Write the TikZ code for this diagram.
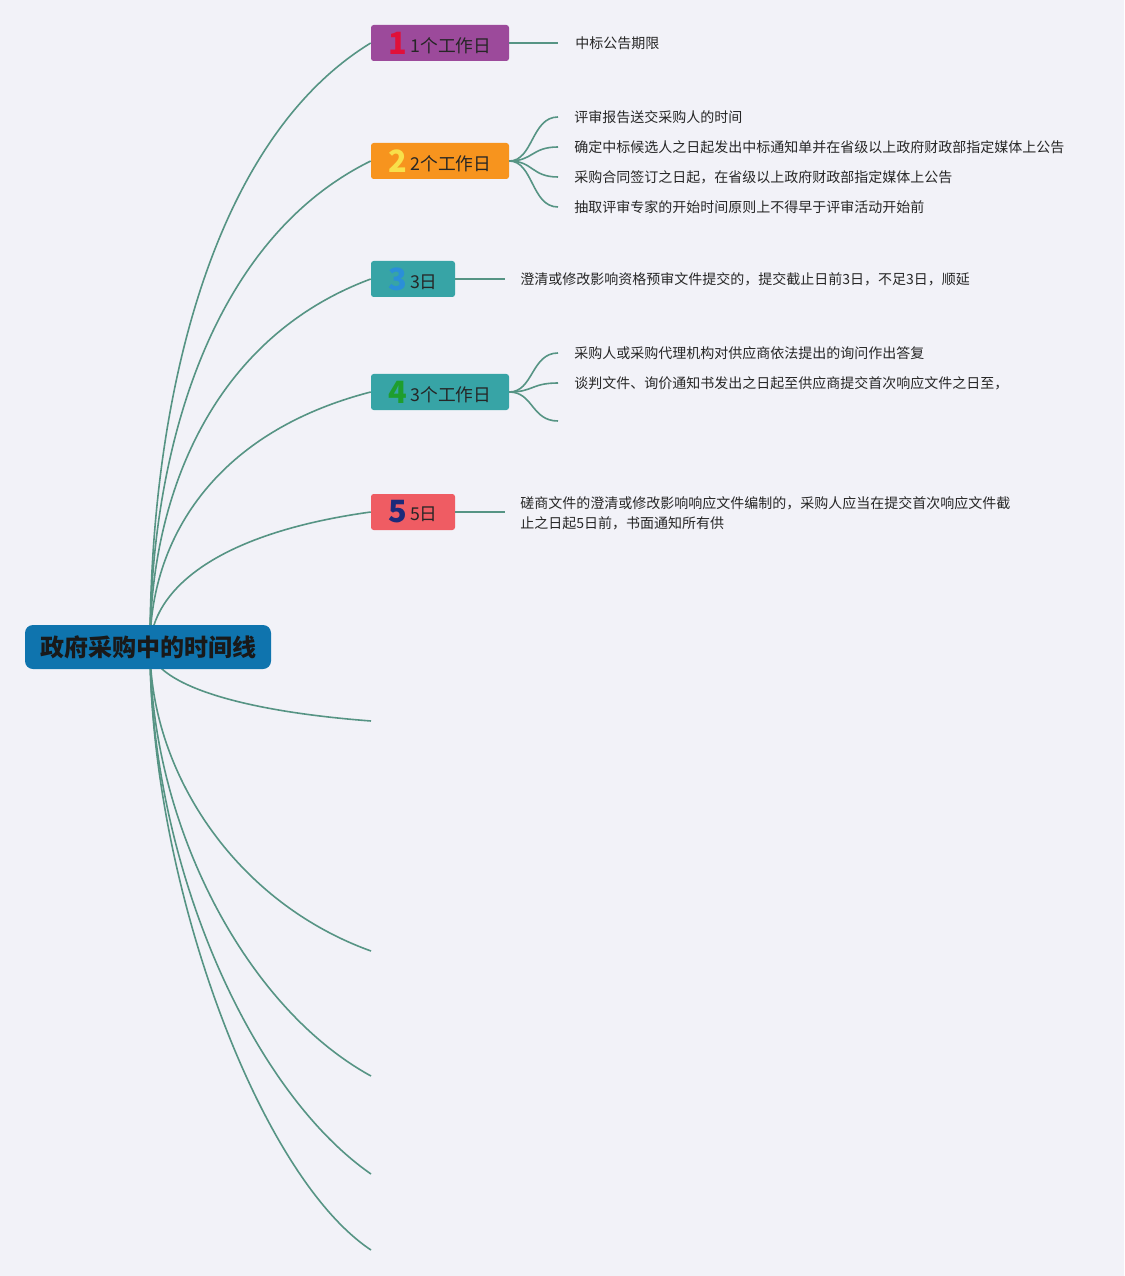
\documentclass[tikz,border=0pt]{standalone}
\usepackage{fontspec}
\setmainfont{Noto Sans CJK SC}
\definecolor{bgc}{HTML}{F2F2F8}
\definecolor{linec}{HTML}{569484}
\definecolor{rootc}{HTML}{0F74AE}
\definecolor{purpc}{HTML}{9C4A9B}
\definecolor{orangec}{HTML}{F7941E}
\definecolor{tealc}{HTML}{37A4A6}
\definecolor{redc}{HTML}{EF5C63}
\definecolor{nred}{HTML}{E0103A}
\definecolor{nyellow}{HTML}{F8E04A}
\definecolor{nblue}{HTML}{2A8FD8}
\definecolor{ngreen}{HTML}{1E9E2E}
\definecolor{nnavy}{HTML}{1C2A7A}
\newcommand{\tnum}[2]{\raisebox{-1.5pt}{\fontsize{23}{23}\selectfont\bfseries\color{#1}#2}}
\begin{document}
\begin{tikzpicture}[x=0.75pt,y=-0.75pt,
  conn/.style={draw=linec, line width=1.2pt},
  topic/.style={rounded corners=2pt, minimum height=27pt, inner sep=0pt,
    font=\fontsize{13.3}{14}\selectfont, text=black!85},
  leaf/.style={anchor=west, inner sep=0pt, font=\fontsize{10.5}{15}\selectfont,
    text=black!85, align=left}]
\useasboundingbox[fill=bgc] (0,0) rectangle (1124,1276);
\coordinate (o) at (150,647);
% topic nodes
\node[topic, fill=purpc, minimum width=103.5pt] (t1) at (440,43) {\tnum{nred}{1}\,1个工作日};
\node[topic, fill=orangec, minimum width=103.5pt] (t2) at (440,161) {\tnum{nyellow}{2}\,2个工作日};
\node[topic, fill=tealc, minimum width=63pt] (t3) at (413,279) {\tnum{nblue}{3}\,3日};
\node[topic, fill=tealc, minimum width=103.5pt] (t4) at (440,392) {\tnum{ngreen}{4}\,3个工作日};
\node[topic, fill=redc, minimum width=63pt] (t5) at (413,512) {\tnum{nnavy}{5}\,5日};
% empty branch ends
\coordinate (b6) at (371,721);
\coordinate (b7) at (371,951);
\coordinate (b8) at (371,1076);
\coordinate (b9) at (371,1174);
\coordinate (b10) at (371,1250);
% main branches
\draw[conn] (o) .. controls (150,399) and (212,140) .. (t1.west);
\draw[conn] (o) .. controls (150,448) and (212,239) .. (t2.west);
\draw[conn] (o) .. controls (150,496) and (212,338) .. (t3.west);
\draw[conn] (o) .. controls (150,542) and (212,433) .. (t4.west);
\draw[conn] (o) .. controls (152,592) and (212,534) .. (t5.west);
\draw[conn] (o) .. controls (150,677) and (215,709) .. (b6);
\draw[conn] (o) .. controls (150,772) and (235,902) .. (b7);
\draw[conn] (o) .. controls (150,823) and (245,1007) .. (b8);
\draw[conn] (o) .. controls (150,863) and (250,1090) .. (b9);
\draw[conn] (o) .. controls (150,880) and (258,1175) .. (b10);
% root
\node[fill=rootc, rounded corners=6pt, minimum width=184.5pt, minimum height=33pt,
  inner sep=0pt, font=\fontsize{18}{20}\selectfont\bfseries, text=black!90] (root) at (148,647) {政府采购中的时间线};
% leaves
\node[leaf] (l1) at (575,43) {中标公告期限};
\draw[conn] (t1.east) -- (558,43);
\node[leaf] (l21) at (574,117) {评审报告送交采购人的时间};
\node[leaf] (l22) at (574,147) {确定中标候选人之日起发出中标通知单并在省级以上政府财政部指定媒体上公告};
\node[leaf] (l23) at (574,177) {采购合同签订之日起，在省级以上政府财政部指定媒体上公告};
\node[leaf] (l24) at (574,207) {抽取评审专家的开始时间原则上不得早于评审活动开始前};
\coordinate (e21) at (558,117);
\coordinate (e22) at (558,147);
\coordinate (e23) at (558,177);
\coordinate (e24) at (558,207);
\foreach \e in {e21,e22,e23,e24}
  \draw[conn] (t2.east) .. controls ([xshift=18pt]t2.east) and ([xshift=-20pt]\e) .. (\e);
\node[leaf] (l3) at (520,279) {澄清或修改影响资格预审文件提交的，提交截止日前3日，不足3日，顺延};
\draw[conn] (t3.east) -- (505,279);
\node[leaf] (l41) at (574,353) {采购人或采购代理机构对供应商依法提出的询问作出答复};
\node[leaf] (l42) at (574,383) {谈判文件、询价通知书发出之日起至供应商提交首次响应文件之日至，};
\coordinate (e41) at (558,353);
\coordinate (e42) at (558,383);
\coordinate (e43) at (558,421);
\foreach \e in {e41,e42,e43}
  \draw[conn] (t4.east) .. controls ([xshift=18pt]t4.east) and ([xshift=-20pt]\e) .. (\e);
\node[leaf] (l5) at (520,513) {磋商文件的澄清或修改影响响应文件编制的，采购人应当在提交首次响应文件截\\止之日起5日前，书面通知所有供};
\draw[conn] (t5.east) -- (505,512);
\end{tikzpicture}
\end{document}
